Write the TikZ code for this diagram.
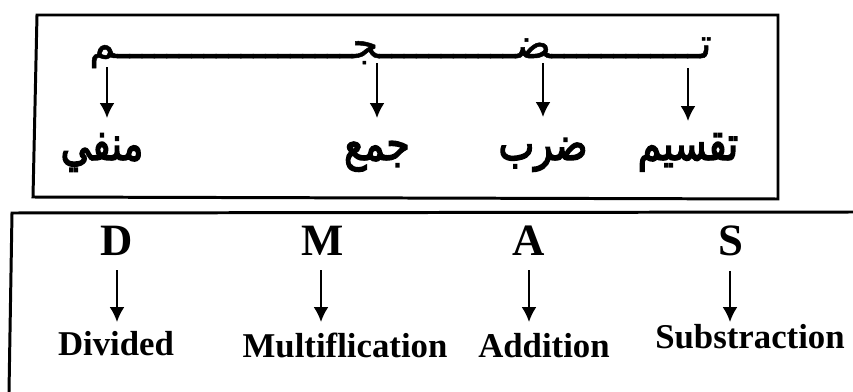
\documentclass[tikz,border=0pt]{standalone}
\usepackage{fontspec}
\setmainfont{Liberation Serif}
\newfontfamily\arabicfont[Script=Arabic,FakeBold=1.2]{DejaVu Sans}
\newfontfamily\arabicbold[Script=Arabic,FakeBold=3,FakeStretch=0.8]{DejaVu Sans}
\TeXXeTstate=1
\usetikzlibrary{arrows.meta}

\begin{document}
\begin{tikzpicture}[x=0.02cm,y=-0.02cm,
  frame/.style={line width=1.7pt,line join=miter},
  arrow/.style={-{Latex[length=8.5pt,width=8.5pt]},line width=1.1pt},
  letter/.style={font=\fontsize{25.5}{28}\selectfont\bfseries,inner sep=0pt},
  word/.style={font=\fontsize{19.8}{22}\selectfont\bfseries,inner sep=0pt},
  arword/.style={font=\arabicbold\fontsize{27}{30}\selectfont,inner sep=0pt}]
  \useasboundingbox (0,0) rectangle (853,392);

  % upper box
  \node[font=\arabicfont\fontsize{24}{28}\selectfont,anchor=base east,inner sep=0pt] (stem) at (712,58)
    {\beginR تــــــــــــضـــــــــــجـــــــــــــــــــم\endR};
  \coordinate (tm) at (107,67);
  \coordinate (tj) at (377,63);
  \coordinate (td) at (543,63);
  \coordinate (tt) at (688,68);

  \node[arword,anchor=base] (nafi) at (102,160) {\beginR منفي\endR};
  \node[arword,anchor=base] (jam) at (377,160) {\beginR جمع\endR};
  \node[arword,anchor=base] (darb) at (543,160) {\beginR ضرب\endR};
  \node[arword,anchor=base] (taqsim) at (688,160) {\beginR تقسيم\endR};

  \draw[arrow] (tm) -- (tm |- 0,118);
  \draw[arrow] (tj) -- (tj |- 0,118);
  \draw[arrow] (td) -- (td |- 0,117);
  \draw[arrow] (tt) -- (tt |- 0,121);

  \draw[frame] (37,15) -- (778,15) -- (778,199) -- (33,197) -- cycle;

  % lower box
  \node[letter,anchor=base] (D) at (117,255) {D};
  \node[letter,anchor=base] (M) at (323,255) {M};
  \node[letter,anchor=base] (A) at (529,255) {A};
  \node[letter,anchor=base] (S) at (731,255) {S};

  \node[word,anchor=base] (divided) at (116,355) {Divided};
  \node[word,anchor=base] (multi) at (345,357) {Multiflication};
  \node[word,anchor=base] (addition) at (544,357) {Addition};
  \node[word,anchor=base] (subs) at (750,348) {Substraction};

  \draw[arrow] (D.south) ++(0,15) coordinate (dD) -- (dD |- 0,322);
  \draw[arrow] (M.south) ++(-2,15) coordinate (dM) -- (dM |- 0,322);
  \draw[arrow] (A.south) ++(0,15) coordinate (dA) -- (dA |- 0,322);
  \draw[arrow] (S.south) ++(-1,15) coordinate (dS) -- (dS |- 0,322);

  \draw[frame] (853,212) -- (12,213) -- (9,392);
\end{tikzpicture}
\end{document}
